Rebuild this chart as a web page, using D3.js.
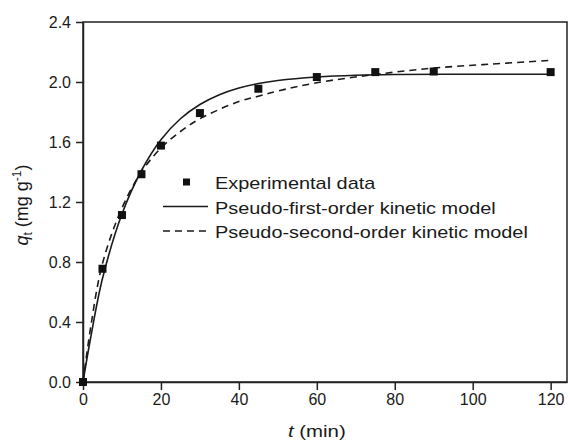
<!DOCTYPE html>
<html>
<head>
<meta charset="utf-8">
<script src="https://cdn.jsdelivr.net/npm/d3@7"></script>
<style>
  body { margin: 0; background: #fff; }
  text { font-family: "Liberation Sans", Arial, sans-serif; fill: #1a1a1a; }
</style>
</head>
<body>
<svg id="chart"></svg>
<script>
// experimental points
const expT = [0, 5, 10, 15, 20, 30, 45, 60, 75, 90, 120];
const expQ = [0, 0.755, 1.113, 1.385, 1.576, 1.793, 1.955, 2.033, 2.066, 2.07, 2.066];

// fitted curves
const pfoT = [0, 2, 5, 10, 15, 20, 25, 30, 35, 40, 45, 50, 60, 70, 80, 100, 120];
const pfoQ = [0, 0.30, 0.69, 1.12, 1.41, 1.615, 1.755, 1.85, 1.915, 1.96, 1.99, 2.01, 2.033, 2.045, 2.05, 2.052, 2.052];

const psoT = [0, 2, 5, 10, 15, 20, 25, 30, 40, 45, 50, 60, 75, 90, 105, 120];
const psoQ = [0, 0.37, 0.79, 1.16, 1.40, 1.56, 1.67, 1.755, 1.87, 1.905, 1.94, 1.995, 2.05, 2.093, 2.12, 2.144];

const xTicks = [0, 20, 40, 60, 80, 100, 120];
const yTicks = [0, 0.4, 0.8, 1.2, 1.6, 2.0, 2.4];

const legendLabels = ["Experimental data", "Pseudo-first-order kinetic model", "Pseudo-second-order kinetic model"];

const width = 570, height = 443;
const margin = { top: 22, right: 3, bottom: 61, left: 83 };
const innerW = width - margin.left - margin.right;
const innerH = height - margin.top - margin.bottom;

const svg = d3.select("#chart").attr("width", width).attr("height", height);
const g = svg.append("g").attr("transform", `translate(${margin.left},${margin.top})`);

const x = d3.scaleLinear().domain([0, 124.2]).range([0, innerW]);
const y = d3.scaleLinear().domain([0, 2.4]).range([innerH, 0]);

// frame
g.append("rect")
    .attr("width", innerW).attr("height", innerH)
    .attr("fill", "none").attr("stroke", "#222").attr("stroke-width", 1.5);

const xAxis = g.append("g")
    .attr("transform", `translate(0,${innerH})`)
    .call(d3.axisBottom(x).tickValues(xTicks).tickSize(8).tickSizeOuter(0).tickPadding(4));
const yAxis = g.append("g")
    .call(d3.axisLeft(y).tickValues(yTicks).tickFormat(d3.format(".1f")).tickSize(7).tickSizeOuter(0).tickPadding(5));

[xAxis, yAxis].forEach(a => {
    a.select(".domain").attr("stroke", "#222").attr("stroke-width", 1.5);
    a.selectAll(".tick line").attr("stroke", "#222").attr("stroke-width", 1.5);
    a.selectAll(".tick text").attr("font-size", 16).attr("font-family", "Liberation Sans, Arial, sans-serif").attr("fill", "#1a1a1a");
});

const line = d3.line().x(d => x(d[0])).y(d => y(d[1])).curve(d3.curveCatmullRom.alpha(0.5));

g.append("path")
    .datum(d3.zip(pfoT, pfoQ))
    .attr("d", line)
    .attr("fill", "none").attr("stroke", "#1a1a1a").attr("stroke-width", 1.6);

g.append("path")
    .datum(d3.zip(psoT, psoQ))
    .attr("d", line)
    .attr("fill", "none").attr("stroke", "#1a1a1a").attr("stroke-width", 1.6)
    .attr("stroke-dasharray", "7,5");

const sq = 8;
g.selectAll("rect.pt")
    .data(d3.zip(expT, expQ))
    .join("rect")
    .attr("class", "pt")
    .attr("x", d => x(d[0]) - sq / 2)
    .attr("y", d => y(d[1]) - sq / 2)
    .attr("width", sq).attr("height", sq)
    .attr("fill", "#111");

// legend
const leg = svg.append("g").attr("transform", "translate(163,182)");
const rowH = 24.5;
leg.append("rect").attr("x", 20).attr("y", -3.5).attr("width", 7).attr("height", 7).attr("fill", "#111");
leg.append("line").attr("x1", 0).attr("x2", 45).attr("y1", rowH).attr("y2", rowH)
    .attr("stroke", "#1a1a1a").attr("stroke-width", 1.6);
leg.append("line").attr("x1", 0).attr("x2", 45).attr("y1", rowH * 2).attr("y2", rowH * 2)
    .attr("stroke", "#1a1a1a").attr("stroke-width", 1.6).attr("stroke-dasharray", "7,5");
leg.selectAll("text.lab")
    .data(legendLabels)
    .join("text")
    .attr("class", "lab")
    .attr("transform", (d, i) => `translate(52,${i * rowH + 7}) scale(1.17,1)`)
    .attr("font-size", 17)
    .text(d => d);

// axis titles
const xt = svg.append("text")
    .attr("transform", `translate(${margin.left + x(60)},437) scale(1.2,1)`)
    .attr("text-anchor", "middle")
    .attr("font-size", 17);
xt.append("tspan").attr("font-style", "italic").text("t");
xt.append("tspan").text(" (min)");

const yt = svg.append("text")
    .attr("transform", `translate(28,${margin.top + y(1.2) + 3}) rotate(-90)`)
    .attr("text-anchor", "middle")
    .attr("font-size", 18);
yt.append("tspan").attr("font-style", "italic").text("q");
yt.append("tspan").attr("font-size", 12).attr("dy", 4).text("t");
yt.append("tspan").attr("dy", -4).text(" (mg g");
yt.append("tspan").attr("font-size", 12).attr("dy", -7).text("-1");
yt.append("tspan").attr("dy", 7).text(")");
</script>
</body>
</html>
